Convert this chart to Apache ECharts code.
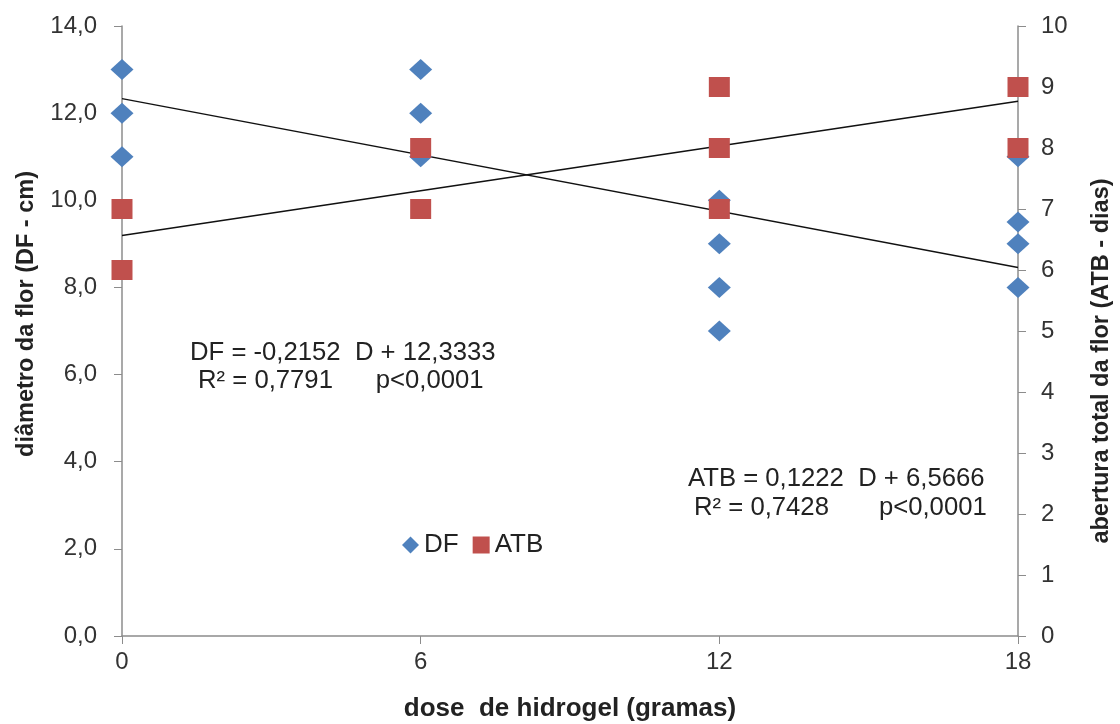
<!DOCTYPE html>
<html>
<head>
<meta charset="utf-8">
<script src="https://cdn.jsdelivr.net/npm/echarts@6/dist/echarts.min.js"></script>
<style>
  html, body { margin: 0; padding: 0; background: #fff; }
  #chart { width: 1120px; height: 724px; }
</style>
</head>
<body>
<div id="chart"></div>
<script>
// Hydrogel doses (g)
const doses = [0, 6, 12, 18];
// Flower diameter (DF, cm) observations per dose
const dfDose = [0, 0, 0, 6, 6, 6, 12, 12, 12, 12, 18, 18, 18, 18];
const dfValues = [13, 12, 11, 13, 12, 11, 10, 9, 8, 7, 11, 9.5, 9, 8];
// Total flower opening (ATB, days) observations per dose
const atbDose = [0, 0, 6, 6, 12, 12, 12, 18, 18];
const atbValues = [7, 6, 8, 7, 9, 8, 7, 9, 8];
// Fitted linear models: [slope, intercept]
const dfFit = [-0.2152, 12.3333];
const atbFit = [0.1222, 6.5666];
// Axis ticks
const leftTicks = [0, 2, 4, 6, 8, 10, 12, 14];
const rightTicks = [0, 1, 2, 3, 4, 5, 6, 7, 8, 9, 10];

const fitLine = (fit) => [doses[0], doses[doses.length - 1]].map(d => [d, fit[0] * d + fit[1]]);

const font = 'Liberation Sans, Arial, sans-serif';
const axisGray = '#8c8c8c';
const ink = '#222';

const chart = echarts.init(document.getElementById('chart'));
chart.setOption({
  animation: false,
  backgroundColor: '#fff',
  grid: { left: 122, right: 102, top: 26, bottom: 88, containLabel: false, outerBoundsMode: 'none' },
  legend: {
    left: 397, top: 527,
    itemWidth: 17, itemHeight: 17, itemGap: 14,
    textStyle: { fontFamily: font, fontSize: 26, color: ink, padding: [0, 0, 0, 0] },
    data: [
      { name: 'DF', icon: 'diamond' },
      { name: 'ATB', icon: 'rect' }
    ]
  },
  xAxis: {
    type: 'value', min: 0, max: 18, interval: 6,
    axisLine: { lineStyle: { color: axisGray, width: 1.5 } },
    axisTick: { show: true, length: 8, lineStyle: { color: axisGray } },
    axisLabel: { fontFamily: font, fontSize: 24, color: '#333', margin: 14 },
    splitLine: { show: false }
  },
  yAxis: [
    {
      type: 'value', min: leftTicks[0], max: leftTicks[leftTicks.length - 1], interval: 2,
      position: 'left',
      axisLine: { show: true, lineStyle: { color: axisGray, width: 1.5 } },
      axisTick: { show: true, length: 8, lineStyle: { color: axisGray } },
      axisLabel: { fontFamily: font, fontSize: 24, color: '#333', margin: 25,
        formatter: v => v.toFixed(1).replace('.', ',') },
      splitLine: { show: false }
    },
    {
      type: 'value', min: rightTicks[0], max: rightTicks[rightTicks.length - 1], interval: 1,
      position: 'right',
      axisLine: { show: true, lineStyle: { color: axisGray, width: 1.5 } },
      axisTick: { show: true, length: 8, lineStyle: { color: axisGray } },
      axisLabel: { fontFamily: font, fontSize: 24, color: '#333', margin: 23 },
      splitLine: { show: false }
    }
  ],
  series: [
    {
      name: 'DFfit', type: 'line', yAxisIndex: 0, data: fitLine(dfFit),
      symbol: 'none', lineStyle: { color: '#111', width: 1.5 }, z: 1, silent: true
    },
    {
      name: 'ATBfit', type: 'line', yAxisIndex: 1, data: fitLine(atbFit),
      symbol: 'none', lineStyle: { color: '#111', width: 1.5 }, z: 1, silent: true
    },
    {
      name: 'DF', type: 'scatter', yAxisIndex: 0,
      data: dfDose.map((d, i) => [d, dfValues[i]]),
      symbol: 'diamond', symbolSize: [23, 21],
      itemStyle: { color: '#4F81BD', opacity: 1 }, z: 2
    },
    {
      name: 'ATB', type: 'scatter', yAxisIndex: 1,
      data: atbDose.map((d, i) => [d, atbValues[i]]),
      symbol: 'rect', symbolSize: [21, 20],
      itemStyle: { color: '#C0504D', opacity: 1 }, z: 3
    }
  ],
  graphic: [
    // axis titles
    { type: 'text', x: 570, y: 709,
      style: { text: 'dose  de hidrogel (gramas)', fontFamily: font, fontSize: 26, fontWeight: 'bold',
        fill: ink, align: 'center', verticalAlign: 'middle' } },
    { type: 'text', x: 27, y: 314, rotation: Math.PI / 2,
      style: { text: 'diâmetro da flor (DF - cm)', fontFamily: font, fontSize: 23.5, fontWeight: 'bold',
        fill: ink, align: 'center', verticalAlign: 'middle' } },
    { type: 'text', x: 1102, y: 361, rotation: Math.PI / 2,
      style: { text: 'abertura total da flor (ATB - dias)', fontFamily: font, fontSize: 23.5, fontWeight: 'bold',
        fill: ink, align: 'center', verticalAlign: 'middle' } },
    // regression equations
    { type: 'text', left: 190, top: 340, style: { text: 'DF = -0,2152  D + 12,3333', fontFamily: font, fontSize: 25.7, fill: ink } },
    { type: 'text', left: 198, top: 368, style: { text: 'R² = 0,7791      p<0,0001', fontFamily: font, fontSize: 25.7, fill: ink } },
    { type: 'text', left: 688, top: 466, style: { text: 'ATB = 0,1222  D + 6,5666', fontFamily: font, fontSize: 25.7, fill: ink } },
    { type: 'text', left: 694, top: 495, style: { text: 'R² = 0,7428       p<0,0001', fontFamily: font, fontSize: 25.7, fill: ink } }
  ]
});
</script>
</body>
</html>
